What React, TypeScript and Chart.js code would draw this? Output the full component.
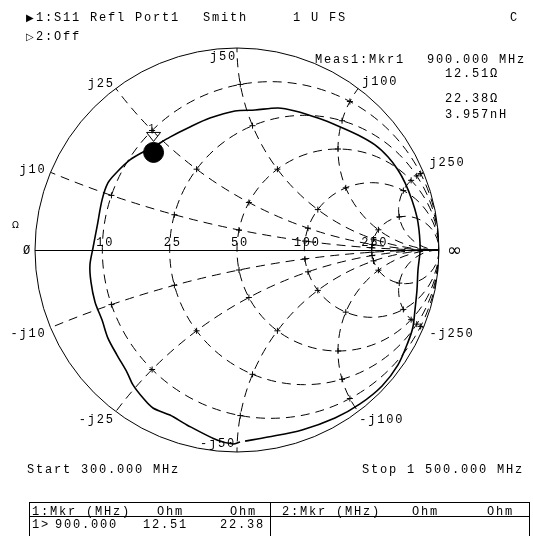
import React, { useEffect, useRef } from "react";
import { Chart, registerables } from "chart.js";
Chart.register(...registerables);

// Smith grid values (normalized to Z0 = 50 ohm)
const resistanceValues = [0.2, 0.5, 1, 2, 5];
const resistanceLabels = ["10", "25", "50", "100", "250"];
const reactanceValues = [0.2, 0.5, 1, 2, 5];
const posReactanceLabels = ["j10", "j25", "j50", "j100", "j250"];
const negReactanceLabels = ["-j10", "-j25", "-j50", "-j100", "-j250"];

// S11 trace, reflection coefficient (real / imaginary), 300 MHz .. 1500 MHz
const traceRe = [
  0.015, -0.02, -0.099, -0.248, -0.332, -0.416, -0.465, -0.515, -0.545, -0.594,
  -0.639, -0.668, -0.703, -0.723, -0.728, -0.713, -0.693, -0.668, -0.639, -0.594,
  -0.53, -0.465, -0.418, -0.332, -0.233, -0.134, -0.01, 0.089, 0.203, 0.287,
  0.401, 0.5, 0.599, 0.683, 0.748, 0.797, 0.832, 0.866, 0.891, 0.901,
  0.906, 0.906, 0.896, 0.891, 0.881, 0.871, 0.847, 0.797, 0.718, 0.609,
  0.485, 0.322, 0.153, 0.04,
];
const traceIm = [
  -0.95, -0.96, -0.941, -0.866, -0.817, -0.782, -0.733, -0.668, -0.604, -0.52,
  -0.436, -0.347, -0.257, -0.158, -0.074, 0.01, 0.114, 0.248, 0.332, 0.386,
  0.446, 0.485, 0.508, 0.559, 0.609, 0.653, 0.688, 0.693, 0.703, 0.688,
  0.653, 0.614, 0.569, 0.52, 0.46, 0.396, 0.332, 0.248, 0.163, 0.099,
  0.035, -0.01, -0.099, -0.198, -0.297, -0.381, -0.455, -0.569, -0.673, -0.762,
  -0.832, -0.891, -0.926, -0.946,
];

// Marker 1 (900 MHz)
const markerRe = [-0.413];
const markerIm = [0.483];
const markerLabels = ["1"];

const MONO = "'Liberation Mono', 'DejaVu Sans Mono', monospace";
const FONT = "12px " + MONO;
const SPACING = "1.8px";

const smithPlugin = {
  id: "smithGrid",
  beforeDatasetsDraw(chart: any) {
    const { ctx } = chart;
    const xs = chart.scales.x;
    const ys = chart.scales.y;
    const P = (re: number, im: number) => [xs.getPixelForValue(re), ys.getPixelForValue(im)];
    const [cx, cy] = P(0, 0);
    const R = xs.getPixelForValue(1) - cx;

    ctx.save();
    ctx.beginPath();
    ctx.arc(cx, cy, R, 0, Math.PI * 2);
    ctx.clip();
    ctx.strokeStyle = "#000";
    ctx.lineWidth = 1;
    ctx.setLineDash([9, 6]);
    resistanceValues.forEach((r) => {
      const [px, py] = P(r / (1 + r), 0);
      ctx.beginPath();
      ctx.arc(px, py, R / (1 + r), 0, Math.PI * 2);
      ctx.stroke();
    });
    reactanceValues.forEach((xv) => {
      [1, -1].forEach((s) => {
        const [px, py] = P(1, s / xv);
        ctx.beginPath();
        ctx.arc(px, py, R / xv, 0, Math.PI * 2);
        ctx.stroke();
      });
    });
    ctx.setLineDash([]);
    // small crosses at intersections
    resistanceValues.forEach((r) => {
      reactanceValues.forEach((xv) => {
        [1, -1].forEach((s) => {
          const x = s * xv;
          const den = (r + 1) * (r + 1) + x * x;
          const [px, py] = P((r * r - 1 + x * x) / den, (2 * x) / den);
          ctx.beginPath();
          ctx.moveTo(px - 3, py);
          ctx.lineTo(px + 3, py);
          ctx.moveTo(px, py - 3);
          ctx.lineTo(px, py + 3);
          ctx.stroke();
        });
      });
    });
    ctx.restore();

    ctx.save();
    ctx.strokeStyle = "#000";
    ctx.lineWidth = 1;
    ctx.beginPath();
    ctx.arc(cx, cy, R, 0, Math.PI * 2);
    ctx.stroke();
    ctx.beginPath();
    ctx.moveTo(cx - R, Math.round(cy) + 0.5);
    ctx.lineTo(cx + R, Math.round(cy) + 0.5);
    ctx.stroke();
    ctx.restore();
  },
  afterDatasetsDraw(chart: any) {
    const { ctx } = chart;
    const xs = chart.scales.x;
    const ys = chart.scales.y;
    const P = (re: number, im: number) => [xs.getPixelForValue(re), ys.getPixelForValue(im)];
    const [cx, cy] = P(0, 0);
    const R = xs.getPixelForValue(1) - cx;

    ctx.save();
    ctx.fillStyle = "#000";
    ctx.font = FONT;
    (ctx as any).letterSpacing = SPACING;
    ctx.textBaseline = "alphabetic";

    // resistance labels
    resistanceValues.forEach((r, i) => {
      const [px] = P((r - 1) / (r + 1), 0);
      ctx.textAlign = "center";
      ctx.fillText(resistanceLabels[i], px + 3, cy - 4);
    });

    // reactance labels: [dx, dy, align] for + and -
    const posOff: [number, number, CanvasTextAlign][] = [
      [-4, 1, "right"],
      [-1, -1, "right"],
      [0, 12, "right"],
      [4, -3, "left"],
      [6, -6, "left"],
    ];
    const negOff: [number, number, CanvasTextAlign][] = [
      [-4, 9, "right"],
      [-1, 11, "right"],
      [-1, -5, "right"],
      [1, 11, "left"],
      [6, 9, "left"],
    ];
    reactanceValues.forEach((xv, i) => {
      const den = 1 + xv * xv;
      const re = (xv * xv - 1) / den;
      const im = (2 * xv) / den;
      let [px, py] = P(re, im);
      ctx.textAlign = posOff[i][2];
      ctx.fillText(posReactanceLabels[i], px + posOff[i][0], py + posOff[i][1]);
      [px, py] = P(re, -im);
      ctx.textAlign = negOff[i][2];
      ctx.fillText(negReactanceLabels[i], px + negOff[i][0], py + negOff[i][1]);
    });

    ctx.textAlign = "right";
    ctx.fillText("Ø", cx - R - 3, cy + 4);
    ctx.font = "9px 'DejaVu Sans', sans-serif";
    (ctx as any).letterSpacing = "0px";
    ctx.textAlign = "left";
    ctx.fillText("Ω", cx - R - 23, cy - 22);
    ctx.font = "18px 'DejaVu Sans', sans-serif";
    ctx.fillText("∞", cx + R + 8, cy + 6);

    // marker triangle and label
    markerRe.forEach((mr, i) => {
      const [mx, my] = P(mr, markerIm[i]);
      const tipY = my - 11;
      ctx.strokeStyle = "#000";
      ctx.lineWidth = 1;
      ctx.beginPath();
      ctx.moveTo(mx, tipY);
      ctx.lineTo(mx - 7, tipY - 9);
      ctx.lineTo(mx + 7, tipY - 9);
      ctx.closePath();
      ctx.stroke();
      ctx.font = "10px " + MONO;
      ctx.textAlign = "center";
      ctx.fillText(markerLabels[i], mx - 2, tipY - 10);
    });
    ctx.restore();
  },
};

const base: React.CSSProperties = {
  position: "absolute",
  fontFamily: MONO,
  fontSize: 12,
  letterSpacing: SPACING,
  lineHeight: "12px",
  whiteSpace: "pre",
  color: "#000",
};

function T({ x, b, children, style }: { x: number; b: number; children: React.ReactNode; style?: React.CSSProperties }) {
  return <div style={{ ...base, left: x, top: b - 9.2, ...style }}>{children}</div>;
}

export default function App() {
  const canvasRef = useRef<HTMLCanvasElement | null>(null);

  useEffect(() => {
    const canvas = canvasRef.current;
    if (!canvas) return;
    const chart = new Chart(canvas, {
      type: "scatter",
      data: {
        datasets: [
          {
            label: "S11",
            data: traceRe.map((re, i) => ({ x: re, y: traceIm[i] })),
            showLine: true,
            borderColor: "#000",
            borderWidth: 1.6,
            pointRadius: 0,
            tension: 0.3,
          },
          {
            label: "Marker",
            data: markerRe.map((re, i) => ({ x: re, y: markerIm[i] })),
            pointRadius: 10,
            pointStyle: "circle",
            backgroundColor: "#000",
            borderColor: "#000",
          },
        ],
      },
      options: {
        responsive: false,
        maintainAspectRatio: false,
        animation: false,
        events: [],
        layout: { padding: { left: 35, right: 94, top: 48, bottom: 84 } },
        scales: {
          x: { type: "linear", min: -1, max: 1, display: false },
          y: { type: "linear", min: -1, max: 1, display: false },
        },
        plugins: { legend: { display: false }, tooltip: { enabled: false } },
      },
      plugins: [smithPlugin],
    });
    return () => chart.destroy();
  }, []);

  return (
    <div style={{ position: "absolute", left: 0, top: 0, width: 533, height: 536, background: "#fff", overflow: "hidden" }}>
      <canvas ref={canvasRef} width={533} height={536} style={{ position: "absolute", left: 0, top: 0, width: 533, height: 536 }} />
      <T x={26} b={21} style={{ fontFamily: "'DejaVu Sans', sans-serif", fontSize: 10, letterSpacing: 0 }}>▶</T>
      <T x={36} b={21}>1:S11 Refl Port1</T>
      <T x={203} b={21}>Smith</T>
      <T x={293} b={21}>1 U FS</T>
      <T x={510} b={21}>C</T>
      <T x={26} b={40} style={{ fontFamily: "'DejaVu Sans', sans-serif", fontSize: 10, letterSpacing: 0 }}>▷</T>
      <T x={36} b={40}>2:Off</T>

      <T x={315} b={63}>Meas1:Mkr1</T>
      <T x={427} b={63}>900.000 MHz</T>
      <T x={445} b={77}>12.51Ω</T>
      <T x={445} b={102}>22.38Ω</T>
      <T x={445} b={118}>3.957nH</T>

      <T x={27} b={473}>Start 300.000 MHz</T>
      <T x={362} b={473}>Stop 1 500.000 MHz</T>

      <div style={{ position: "absolute", left: 29, top: 502, width: 501, height: 40, border: "1px solid #000", boxSizing: "border-box" }} />
      <div style={{ position: "absolute", left: 29, top: 516, width: 501, height: 1, background: "#000" }} />
      <div style={{ position: "absolute", left: 270, top: 502, width: 1, height: 40, background: "#000" }} />
      <T x={32} b={515}>1:Mkr (MHz)</T>
      <T x={157} b={515}>Ohm</T>
      <T x={230} b={515}>Ohm</T>
      <T x={282} b={515}>2:Mkr (MHz)</T>
      <T x={412} b={515}>Ohm</T>
      <T x={487} b={515}>Ohm</T>
      <T x={32} b={528}>1&gt;</T>
      <T x={55} b={528}>900.000</T>
      <T x={143} b={528}>12.51</T>
      <T x={220} b={528}>22.38</T>
    </div>
  );
}
